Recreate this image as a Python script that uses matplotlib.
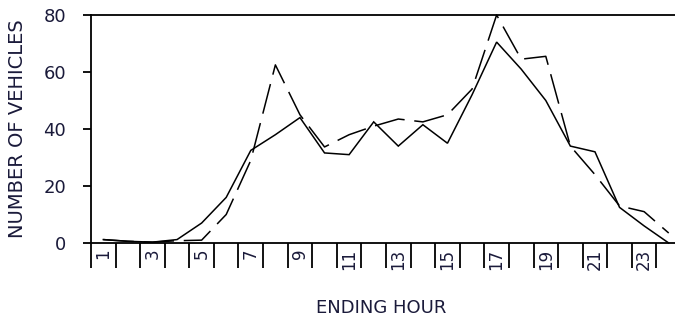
import matplotlib

matplotlib.use("Agg")
import matplotlib.pyplot as plt
from matplotlib.ticker import FixedLocator, FixedFormatter

# hourly counts
hours = list(range(1, 25))
solid_counts = [1.2, 0.6, 0.3, 1.2, 7, 16, 32.5, 38, 44, 31.6, 31, 42.5,
                34, 41.5, 35, 52, 70.5, 61, 50, 34, 32, 12.5, 6, 0]
dashed_counts = [1.2, 0.6, 0.3, 0.8, 1, 10, 29, 62.5, 45, 33.7, 38, 41,
                 43.5, 42.5, 45, 54, 80, 64.5, 65.5, 34, 24, 13, 11, 3.5]
y_ticks = [0, 20, 40, 60, 80]
x_labels = [str(h) if h % 2 == 1 else "" for h in hours]

TEXT_COL = "#1a1a3a"
plt.rcParams["font.family"] = ["DejaVu Sans"]
plt.rcParams["lines.scale_dashes"] = False


def make_plot():
    fig = plt.figure(figsize=(6.75, 3.16), dpi=100)
    # axes runs past the right edge of the picture, as in the original
    ax = fig.add_axes([91 / 675, 73 / 316, 590 / 675, 228 / 316])

    ax.plot(hours, solid_counts, color="black", lw=1.1,
            solid_joinstyle="miter", clip_on=False)
    ax.plot(hours, dashed_counts, color="black", lw=1.1,
            linestyle=(0, (22, 7)), clip_on=False)

    ax.set_xlim(0.5, 24.5)
    ax.set_ylim(0, 80)

    # cell boundary ticks (long, no labels) and labels in the cell centres
    ax.xaxis.set_major_locator(FixedLocator([h + 0.5 for h in range(0, 25)]))
    ax.xaxis.set_major_formatter(FixedFormatter([""] * 25))
    ax.xaxis.set_minor_locator(FixedLocator(hours))
    ax.xaxis.set_minor_formatter(FixedFormatter(x_labels))
    ax.tick_params(axis="x", which="major", direction="out", length=18,
                   width=1.3, color="black")
    ax.tick_params(axis="x", which="minor", length=0, pad=4,
                   labelsize=12, labelcolor=TEXT_COL, labelrotation=90)

    ax.set_yticks(y_ticks)
    ax.tick_params(axis="y", direction="out", length=6, width=1.3,
                   pad=12, labelsize=13, labelcolor=TEXT_COL)

    for side in ["left", "bottom", "top"]:
        ax.spines[side].set_linewidth(1.3)
    ax.spines["right"].set_visible(False)

    ax.set_xlabel("ENDING HOUR", fontsize=13, color=TEXT_COL)
    ax.set_ylabel("NUMBER OF VEHICLES", fontsize=14, color=TEXT_COL)
    ax.xaxis.set_label_coords((381 - 91) / 590, (243 - 299) / 228)
    ax.yaxis.set_label_coords((27 - 91) / 590, 0.5)

    fig.savefig("out.png", dpi=100)


make_plot()
